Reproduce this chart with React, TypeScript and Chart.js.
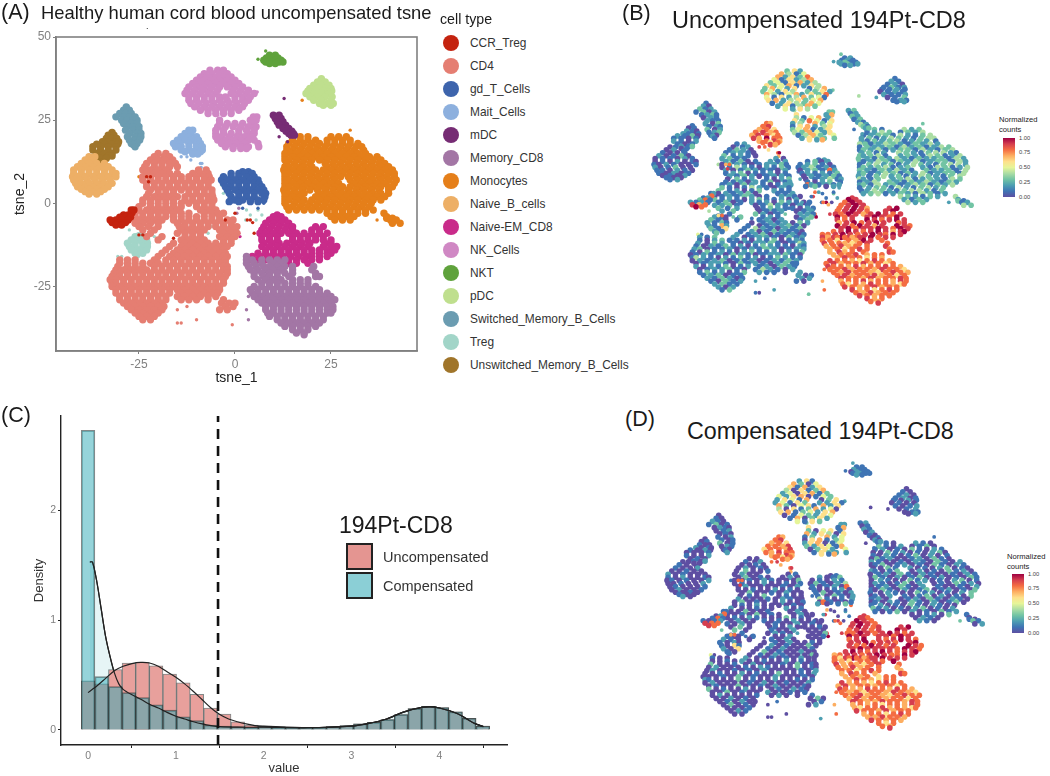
import React, { useEffect, useRef } from "react";
import { Chart, registerables } from "chart.js";
Chart.register(...registerables);

// Every row is [y, x, x, x ...].
const ccrRows = [[-2,-27,-26.3],[-2.8,-26.8],[-3.5,-29,-27.8],[-4.2,-30,-28.5,-27.2],[-5,-32.5,-31,-29.5,-27.8],[-5.8,-32,-30.2,-28.5],[-6.5,-31,-29.5]];
const ccrStrays = [[8,-22,-23],[6.5,-22.5],[-9.5,-25,-24],[-5,4,3.2],[-5.8,4.6],[-9,5],[-3,0],[-5,-2.5],[-10.5,-16]];
const cd4Rows = [
  [15,-20,-18],[14,-21,-18.5,-17],[13,-22,-20,-18.3,-16.2],[12,-23,-21,-19,-17,-15.5],[11,-23.5,-21,-19,-17,-15],
  [10,-24,-22,-20,-18,-9.5,-7.5],[9,-23,-21,-19,-17,-15,-11,-9,-7],[8,-24,-22,-20,-18,-16,-14,-12,-10,-8,-6.7],
  [7,-24,-22,-20,-18,-16,-14,-12,-10,-8,-6.2],[6,-23,-21,-19,-17,-15,-13,-11,-9,-7],[5,-23,-21,-19,-17,-15,-13,-11,-9,-7],
  [4,-22,-20,-18,-16,-14,-12,-10,-8,-6],[3,-22.5,-20,-18,-16,-12,-10,-8,-6],[2,-23,-21,-19,-17,-15,-13,-11,-9,-7,-5.8],
  [1,-24,-22,-20,-18,-16,-13,-11,-9,-7,-5.5],[0,-24,-22,-20,-18,-16,-14,-12,-10,-8,-6],[-1,-25,-22,-20,-18,-16,-14,-10,-8,-6],
  [-2,-25,-23,-21,-19,-17,-15,-9,-7,-5],[-3,-26,-24,-22,-20,-18,-16,-14,-12,-8,-6,-4.5,-3],
  [-4,-26,-24,-22,-20,-18,-16,-14,-12,-10,-8,-6,-4],[-5,-25,-23,-21,-19,-16,-14,-12,-10,-8,-6,-4,-2,-0.5],
  [-6,-26,-24,-22,-20,-15,-13,-11,-9,-7,-5,-3,-1],[-7,-25,-22.5,-20,-14.5,-13,-11,-9,-7,-5,-3,-1,0.5],
  [-8,-24,-21,-14,-12,-10,-8,-4,-2,0],[-9,-22,-15,-13,-11,-9,-3,-1,0.5],[-10,-23,-19,-13,-11,-9,-4,-2,0],
  [-11,-20,-14,-12,-10,-8,-3,-1],[-12,-16,-13,-11,-9,-7,-5,-3,-1],[-13,-17,-14,-12,-10,-8,-6,-4,-2],[-14,-18,-15,-13,-11,-9,-7,-5,-3],
  [-15,-19,-16,-14,-12,-10,-8,-6,-4,-2.5],[-16,-20,-17,-15,-13,-11,-9,-7,-5,-3,-2],[-17,-30,-28,-26,-21,-18,-16,-14,-12,-10,-8,-6,-4,-2.5],
  [-18,-30,-28,-26,-24,-22,-20,-18,-16,-14,-12,-10,-8,-6,-4,-2.5],[-19,-30.5,-28,-26,-24,-21,-19,-17,-15,-13,-11,-9,-7,-5,-3,-2],
  [-20,-31,-29,-27,-25,-23,-21,-19,-17,-15,-13,-11,-9,-7,-5,-3,-2],[-21,-31.5,-30,-28,-26,-24,-22,-20,-18,-16,-14,-12,-10,-8,-6,-4,-2],
  [-22,-32,-30,-28,-26,-24,-22,-20,-18,-16,-14,-12,-10,-8,-6,-4,-2.5],[-23,-32.5,-31,-29,-27,-25,-23,-21,-19,-17,-15,-13,-11,-9,-7,-5,-3],
  [-24,-32,-31,-29,-27,-25,-23,-21,-19,-17,-15,-13,-11,-9,-7,-5,-3],[-25,-32,-30,-28,-26,-24,-22,-20,-18,-16,-14,-12,-10,-8,-6,-4],
  [-26,-31,-29,-27,-25,-23,-21,-19,-17,-15,-13,-11,-9,-7,-5,-4],[-27,-31,-29,-27,-25,-23,-21,-19,-17,-14,-12,-10,-8,-6,-4.5],
  [-28,-30,-28,-26,-24,-22,-20,-18,-15,-13,-11,-9,-7,-5],[-29,-30,-28,-26,-24,-22,-20,-18,-14,-12,-10,-7,-3],
  [-30,-29,-27,-25,-23,-21,-19,-3.5,-1.5,0],[-31,-28,-26,-24,-22,-20,-18.5,-2.5,-0.5],[-32,-27,-25,-23,-21,-19,-4,-2],
  [-33,-26,-24,-22,-20],[-34,-25,-23,-21],[-35,-24,-22]
];
const cd4Strays = [[-36,-15,-14],[-36.5,-0.7],[-35,-10],[-31,-12.5],[-32,-15]];
const gdRows = [[9.5,2,3.5],[9,-1,1,2.7,4.5],[8,-3,-1,1,3,5],[7,-3.5,-2,0,2,4,6],[6,-3,-1,1,3,5,6.3],[5,-2.5,-1,1,3,5,7],[4,-2,0,2,4,6,7.5],[3,-1.5,1,3,5,7,8],[2,-1,1,3,5,7.8],[1,-1,0,2,4,6,7.5],[0.5,-1.5,1,4,6]];
const gdStrays = [[-1.5,2,6],[0,7.5]];
const maitRows = [[22,-12,-11],[21,-13,-11.5],[20,-14,-12,-10],[19,-15,-13,-11,-9.5],[18,-16,-14.3,-12,-10,-9],[17,-15.5,-14,-12,-10,-8.5],[16,-14,-12,-10,-8.5],[15.5,-13,-11,-9],[14.8,-11,-9.7]];
const maitStrays = [[12,-9,-8.6],[10.8,-8.8],[14,-14,-12.5],[13,-11.5]];
const mdcRows = [[26.5,10,11.5],[25.5,10.5,12],[24.5,11,12.5],[23.5,11.5,13.2],[22.5,12.5,14],[21.7,13.3,14.8],[21,14,15.2],[20.5,14.6,15.5]];
const mdcStrays = [[31.5,12.8],[20,11.5],[18.5,13.7]];
const memoryRows = [
  [-16,3],[-17,3,4.5,7,9,11,13],[-18,3,5,7,10,12],[-19,3.5,5.5,7.5,9,11,13,15,20.5],[-20,4,6,8,10,12,15,20],[-21,5,7,9,11,13,15,21],[-22,5,7.5,9,11,14,21,22],
  [-23,6,8,10,12,15,17,19],[-24,7,9,11,13,15,17,19],[-25,5,7,9,11,13,15,17,19,21],[-26,4,6,8,10,12,14,16,18,20,22],[-27,4.5,6,8,10,12,14,16,18,20,22,24],
  [-28,5,7,9,11,13,15,17,19,21,23,25],[-29,6,8,10,12,14,16,18,20,22,24,26],[-30,7,9,11,13,15,17,19,21,23,25],[-31,8,10,12,14,16,18,20,22,24,25.5],
  [-32,8,10,12,14,16,18,20,22,24,25.5],[-33,8.5,10,12,14,16,18,20,22,24,25],[-34,9,11,13,15,17,19,21,23],[-35,11,13,15,17,19,21,23],
  [-36,12,14,16,18,20,22],[-37,13,15,17,19,21],[-38,15,17,19],[-39,16,18],[-39.5,18]
];
const memoryStrays = [[-28,3.5],[-32,3],[-35,3.5],[-3,0.5],[-1.5,1]];
const monoRows = [
  [20,15,17,19,25,27,29],[19,15,17,19,21,24,26,28,30],[18,14,16,18,20,22,24,26,28,30,32],[17,13.5,15.5,17.5,19.5,21.5,23.5,25.5,27.5,29.5,31.5,33],
  [16,13.5,15,17,19,21,23,25,27,29,31,33.5],[15,13,14.5,16,18,20,22,24,26,28,30,32,34],
  [14,13,15,17,19,21,23,25,27,29,31,33,35,37],[13,13,14,16,18,20,22,24,26,28,30,32,34,36,38],
  [12,13.5,15.5,17.5,19.5,23.5,25.5,27.5,29.5,31.5,33.5,35.5,37.5,39],[11,13,14,16,18,20,24,26,28,30,32,34,36,38,40],
  [10,12.7,15,17,19,21,23,25,27,29,31,33,35,37,39,41],[9,13,14,16,18,20,22,24,26,28,30,32,34,36,38,40,41.5],
  [8,13,15.5,17.5,19.5,21.5,23.5,25.5,27.5,29.5,31.5,33.5,35.5,37.5,39.5,41.5],[7,13,14,16,18,20,22,24,26,30,32,34,36,38,40,42],
  [6,13,15,17,19,21,23,25,27,31,33,35,37,39,41.5],[5,13,14,16,18,20,22,24,26,28,30,32,34,36,38,40,41],
  [4,12.7,15.5,17.5,19.5,21.5,23.5,25.5,27.5,29.5,31.5,33.5,35.5,37.5,40],[3,13,14,16,18,22,24,26,28,30,32,34,36,38,40],
  [2,13,15,17,21,23,25,27,29,31,33,35,37,39],[1,13,14,16,18,20,22,24,26,28,30,32,34,36,38],
  [0,13,15.5,17.5,19.5,21.5,23.5,25.5,27.5,29.5,31.5,33.5,35.5],[-1,13.5,15,17,19,21,23,25,27,29,31,33,35],
  [-2,14,16,18,20,22,24,26,28,30,32,34,36],[-3,24,26,28,30,32,34,38.8],[-4,25,27,29,31,39.5],[-4.5,39.5,41],[-5,26,28,30,40.5,42],[-6,41,43]
];
const monoStrays = [[31,17.5],[22,30],[19,-11],[10,-20],[8,-25],[-5,37],[-36.5,20.5]];
const naiveBRows = [[14,-38,-36.5],[13,-39,-37],[12,-40,-38,-36,-34],[11,-41,-39,-37,-35,-33],[10,-42,-40,-38,-36,-34,-32],[9,-42,-40,-38,-36,-34,-32,-31],[8,-42.3,-41,-39,-37,-35,-33,-31],[7,-42,-40.5,-38.5,-36.5,-34.5,-32.5],[6,-41.5,-40,-38,-36,-34,-32],[5,-41,-39,-37,-35,-33],[4.2,-40,-38,-36,-34],[3.5,-39,-37,-35],[2.8,-38,-36]];
const naiveEmRows = [
  [-3.5,11],[-4,10,12],[-5,9,11,13],[-6,8,10,12,14],[-7,7.5,9.5,11.5,13.5,15,21,23],[-8,7,9,11,13,15,20,22],[-9,6.5,8,10,12,14,16,18,20,22,24],[-10,7,9,11,15,17,19,21,23],
  [-11,7,9,11,15,17,19,21,23,25],[-12,7.5,9.5,11.5,13.5,15.5,17.5,19.5,23.5,25],[-13,7,9,11,13,15,17,19,23,25,26.5],[-14,8,10,12,14,16,18,20,22,24,26],
  [-15,6,8,10,12,14,16,18,20,22,24,25],[-16,4.5,6.5,8.5,10.5,12.5,14.5,16.5,18.5,20,22,24],[-17,4,6,8,10,12,14,16,18,20,22],[-18,14,16,19]
];
const naiveEmStrays = [[-9,0.5,1],[-10,1.3]];
const nkRows = [
  [40,-6.5,-4.5,-3],[39,-8,-6,-4,-2],[38,-9,-7,-5,-3,-1],[37,-10,-8,-6,-4,-2,0],[36,-11,-9,-7,-5,-3,-1,1],[35,-12,-10,-8,-6,-4,-2,0,2],
  [34,-12.5,-10.5,-8.5,-6.5,-4.5,-0.5,1.5,3.5],[33,-13,-11,-9,-7,-5,-1,1,3,5],[32,-12,-10,-8,-6,-4,-2.5,0,2,4],[31,-12,-10,-8,-6,-4,-2,0,2,3.5],
  [30,-11.5,-9.5,-7.5,-5.5,-3.5,-1.5,0.5,2.5],[29,-10.5,-8,-6,-4,-2,0,2],[28,-9,-7,-5,-3,-1,1],[27,-7,-5,-3,-1],
  [26,4.8,5.7],[25,-4,4,5.5],[24,-4,-2,0,2,4.5],[23,-4.5,-2.5,-0.5,1.5,3.5,5.5],[22,-5,-3,1,3,5],[21,-5,-3,-1,1,3.5,5],[20,-5,-3.5,-1.5,0.5,2.5,4.5],
  [19,-4.5,-2.5,-0.5,1.5,3.5,5],[18,-3.5,-1.5,0.5,2.5,6],[17,-2.5,-0.5,1.5,3.5,6.2],[16.5,-0.5,1.5,3]
];
const nkStrays = [[33.5,5.8],[26.5,-4.5]];
const nktRows = [[44.5,9,10.5],[43.7,8.2,9.8,11.2],[43,7.5,9,10.5,12],[42.5,8,9.7,11.5,12.5],[42,9,10.5]];
const nktStrays = [[45.8,8],[43.3,6]];
const pdcRows = [[37.5,22.5],[36.5,21.5,23.5],[35.5,20.5,22.5,24.5],[34.5,19.5,21.5,23.5,25],[33.8,19,21,23,25.2],[33,18.5,20.5,22.5,24.5],[32,19.5,21.5,23.5,25.3],[31,20.5,22.5,25],[30,22,24,25.6],[29.5,23,25]];
const switchedRows = [[29,-28.3],[28,-29,-27.5],[27,-30,-28.5,-27],[26,-31,-29,-27.5,-26],[25,-29.5,-28,-26.5,-25.5],[24,-29,-27,-25.5],[23,-28,-26.5,-25],[22,-28.5,-26.5,-25],[21,-27.5,-25.5,-24.5],[20,-28,-26,-24.5],[19,-27.5,-26,-24.8],[18,-27,-25.5],[17.7,-26.5],[17,-26]];
const tregRows = [[-9.7,-25],[-10,-26,-24],[-11,-27,-25,-23],[-12,-28,-26,-24,-22.8],[-13,-27.5,-26,-24,-22.8],[-14,-27,-25,-23],[-15,-26,-24],[-15.5,-25.5]];
const tregStrays = [
  [-16,-29.5,-30.5],[-8,-27.5],[-10,-21,-19.5],[-11,-14,-8],[-7,-6],[-9,-7],[-5,-12],[-17,-28],[5.5,-3.5],[3,-3],
  [-2,3,6],[-3.5,4,7],[-5,5.5,2.8],[2,13],[0,13],[-16,-3.5]
];
const unswitchedRows = [[21.3,-32],[20.5,-33,-31.5],[19.5,-33.5,-32,-30.8],[18.5,-34.5,-33,-31,-30.3],[17.8,-36,-34,-32,-30.5],[17,-37,-35,-33,-31],[16,-37,-35,-33,-31],[15,-36,-34,-32],[14.2,-35,-33,-32],[13.5,-35,-33.5],[12.5,-34.3]];
const unswitchedStrays = [[11.5,-34],[10,-33.5]];

// Expression levels in tenths (0 = 0.00, 10 = 1.00) read cluster by cluster from panels B and D.
const ccrB = [1,2,8,1,2,3,8,1,2,1,2,1,9,7,8,10,8,6,9,7,8];
const ccrD = [1,1,8,0,2,1,8,1,1,0,1,2,9,8,8,9,8,7,9,8,8];
const cd4B = [1,2,0,1,2,1,3,2,0,1,2,2,1,0,3,1,2,1,0,2,3,1,1,2,0,2,1,3,0,1,2,1,2,0,3,2,1,0,1,2,2,3,1,0,1,4,2,1,0,2,1,3,1,2,0,1,3,2,1,1,0,2,1,2,3,0,1];
const cd4D = [0,0,1,0,2,0,0,1,0,0,2,0,1,0,0,3,0,0,1,0,2,0,0,0,1,0,3,0,1,0,0,2,0,0,0,1,0,2,1,0,0,0,3,0,1,0,0,2,0,0,1,0,1,0,2,0,0];
const gdB = [1,2,1,3,0,2,1,2,3,1,0,1,2,4,1,2,1,0,2,3,1,8,2,1,2];
const gdD = [0,1,2,0,1,3,0,1,0,2,1,0,3,1,0,2,4,1,0,1,2,0,8,1,0];
const maitB = [8,7,8,9,7,8,6,8,9,7,8,7,9,8,6,8,9,7,10,8];
const maitD = [8,7,8,9,7,8,6,8,8,7,9,6,8,8,7,9,8,7,9,8];
const mdcB = [2,3,1,2,3,2,1,3,2,1,4];
const mdcD = [1,2,0,1,2,1,0,2,1,0,0];
const memoryB = [8,9,7,8,8,7,9,8,8,6,8,7,9,8,8,7,6,8,9,8,7,8,9,7,8,8,9,7,8,6,8,9,8,8,7,9,7,8,8,9,8,7,8];
const memoryD = [7,8,6,8,8,7,9,8,7,6,8,8,9,7,8,7,6,8,9,8,8,7,9,7,8,8,7,8,8,6,8,9,8,7,7,9,8,8,7,9,8,7,8];
const monoB = [2,3,1,4,2,3,1,2,4,3,1,3,2,4,1,2,3,3,1,4,2,1,3,4,2,3,1,2,4,3,2,1,3,4,4,2,1,3,2,3,4,1,2,3,2,1,4,3,1,2,4,3,2,1,3,2,4,2,1,3,2];
const monoD = [0,1,0,2,1,0,3,1,0,2,0,1,3,0,1,2,0,1,0,3,1,0,2,1,0,0,3,1,2,0,1,0,2,3,0,1,0,2,1,0,1,3,0,2,0,1,0,3,1,2,0,0,1,2,0,3,1,0,2,1,0];
const naiveBB = [0,1,0,2,1,0,0,1,2,0,1,3,0,0,1,1,0,2,1,0,1,0,2,0,1];
const naiveBD = [0,0,1,0,1,0,0,2,0,0,1,0,0,2,0,1,0,0,0,1,0,2,0,0,1];
const naiveEmB = [9,10,9,8,10,9,8,9,10,9,8,9,10,9,7,9,10,8,9,10,9,8,9,10,9,8,10,9,7,9,10,9,8,9,10,8,9];
const naiveEmD = [9,9,8,10,9,8,9,10,9,8,9,10,9,8,9,9,10,8,9,9,8,9,10,9,8,8,10,9,8,9,10,9,8,9,10,9,9];
const nkB = [3,6,2,7,4,1,5,7,2,6,3,8,5,1,6,2,4,7,3,5,1,6,7,2,4,6,3,5,7,1,2,6,4,3,7,5,2,6,1,4,7,3,5,2,6,4,3];
const nkD = [2,6,1,7,3,0,5,6,1,7,2,6,4,0,6,1,3,7,2,5,0,6,7,1,3,5,2,6,7,0,1,5,3,2,6,5,1,7,0,3,6,2,5,1,6,3,2];
const nktB = [1,2,1,2,1,2,3,1,1,2,3];
const nktD = [1,1,2,1,1,0,2,1,1,1,2];
const pdcB = [1,2,1,1,2,0,1,3,1,2,1,1,2,1,0,1,2];
const pdcD = [0,1,0,1,2,0,1,2,0,1,1,0,2,1,0,1,0];
const switchedB = [1,2,0,3,1,2,1,3,0,2,1,2,3,1,0,2,1,2,1];
const switchedD = [0,1,0,2,1,0,1,3,0,1,0,2,1,0,0,1,2,0,1];
const tregB = [1,2,1,3,1,0,2,1,3,1,2,1,7,2,3,1,6,2,1,3,4,5,1];
const tregD = [0,1,0,2,1,0,1,0,2,0,1,0,6,1,2,0,6,1,0,1,3,5,0];
const unswitchedB = [1,0,1,2,1,0,2,1,0,1,2,1,3,0,1];
const unswitchedD = [0,0,1,1,0,0,2,0,1,0,1,0,2,0,0];

const spectral = ["#5E4FA2","#3F74B4","#4E9FB2","#72C4A4","#ABDDA4","#E6F598","#FEE08B","#FDAE61","#F46D43","#D53E4F","#9E0142"];

const clusters = [
  { name: "CCR_Treg", color: "#C4230F", rows: ccrRows, strays: ccrStrays, b: ccrB, d: ccrD },
  { name: "CD4", color: "#E57E72", rows: cd4Rows, strays: cd4Strays, b: cd4B, d: cd4D },
  { name: "gd_T_Cells", color: "#3D64AC", rows: gdRows, strays: gdStrays, b: gdB, d: gdD },
  { name: "Mait_Cells", color: "#8DB0DE", rows: maitRows, strays: maitStrays, b: maitB, d: maitD },
  { name: "mDC", color: "#762C74", rows: mdcRows, strays: mdcStrays, b: mdcB, d: mdcD },
  { name: "Memory_CD8", color: "#A376A5", rows: memoryRows, strays: memoryStrays, b: memoryB, d: memoryD },
  { name: "Monocytes", color: "#E57F1A", rows: monoRows, strays: monoStrays, b: monoB, d: monoD },
  { name: "Naive_B_cells", color: "#EDAF66", rows: naiveBRows, strays: [], b: naiveBB, d: naiveBD },
  { name: "Naive-EM_CD8", color: "#C92B8A", rows: naiveEmRows, strays: naiveEmStrays, b: naiveEmB, d: naiveEmD },
  { name: "NK_Cells", color: "#D088C4", rows: nkRows, strays: nkStrays, b: nkB, d: nkD },
  { name: "NKT", color: "#5FA23C", rows: nktRows, strays: nktStrays, b: nktB, d: nktD },
  { name: "pDC", color: "#BFDF8E", rows: pdcRows, strays: [], b: pdcB, d: pdcD },
  { name: "Switched_Memory_B_Cells", color: "#6B9CB1", rows: switchedRows, strays: [], b: switchedB, d: switchedD },
  { name: "Treg", color: "#A2D5C8", rows: tregRows, strays: tregStrays, b: tregB, d: tregD },
  { name: "Unswitched_Memory_B_Cells", color: "#A0752A", rows: unswitchedRows, strays: unswitchedStrays, b: unswitchedB, d: unswitchedD },
];

const expand = (rows: number[][]) => rows.flatMap(([y, ...xs]) => xs.map((x) => ({ x, y })));

// Panel C: histogram bins and density curves
const binWidth = 0.155;
const uncompensatedBins = [0.447,0.42,0.55,0.61,0.617,0.585,0.51,0.43,0.325,0.2,0.145,0.075,0.045,0.035,0.03,0.025,0.025,0.025,0.03,0.04,0.055,0.07,0.095,0.14,0.195,0.215,0.205,0.165,0.105,0.035];
const compensatedBins = [2.73,0.486,0.395,0.34,0.295,0.23,0.18,0.12,0.085,0.045,0.035,0.03,0.025,0.03,0.025,0.025,0.025,0.025,0.03,0.04,0.055,0.07,0.095,0.14,0.195,0.215,0.205,0.165,0.105,0.035];
const compensatedKdeX = [0.02,0.05,0.1,0.15,0.2,0.25,0.3,0.35,0.4,0.5,0.6,0.7,0.8,0.9,1,1.1,1.2,1.3,1.4,1.5,1.7,2,2.5,3,3.2,3.4,3.6,3.8,3.9,4,4.2,4.4,4.5];
const compensatedKdeY = [1.53,1.53,1.35,1.1,0.85,0.67,0.52,0.42,0.37,0.32,0.28,0.235,0.2,0.16,0.125,0.1,0.075,0.055,0.04,0.03,0.025,0.025,0.02,0.035,0.06,0.1,0.165,0.205,0.21,0.2,0.15,0.06,0.03];
const uncompensatedKdeX = [0,0.05,0.1,0.2,0.3,0.4,0.5,0.6,0.7,0.8,0.9,1,1.1,1.2,1.3,1.4,1.5,1.6,1.7,1.8,1.9,2,2.5,3,3.2,3.4,3.6,3.8,3.9,4,4.2,4.4,4.5];
const uncompensatedKdeY = [0.34,0.37,0.4,0.47,0.54,0.58,0.605,0.615,0.61,0.58,0.53,0.48,0.42,0.35,0.275,0.2,0.14,0.1,0.075,0.055,0.04,0.035,0.02,0.035,0.06,0.1,0.165,0.205,0.21,0.2,0.15,0.06,0.03];
const cutoffValue = 1.48;
const legendLabelsC = ["Uncompensated", "Compensated"];
const colorbarTicks = ["1.00", "0.75", "0.50", "0.25", "0.00"];

const FONT = "'Liberation Sans', Arial, sans-serif";
const GREY = "#808080";

const framePlugin = {
  id: "frame",
  afterDatasetsDraw(chart: any, _a: any, o: any) {
    if (!o || !o.color) return;
    const { ctx, chartArea: c } = chart;
    ctx.save();
    ctx.strokeStyle = o.color;
    ctx.lineWidth = o.width;
    ctx.strokeRect(c.left, c.top, c.right - c.left, c.bottom - c.top);
    ctx.restore();
  },
};

function ticksAt(values: number[]) {
  return (s: any) => { s.ticks = values.map((value) => ({ value })); };
}

function useChart(make: (c: HTMLCanvasElement) => Chart) {
  const ref = useRef<HTMLCanvasElement>(null);
  useEffect(() => {
    const chart = make(ref.current!);
    return () => chart.destroy();
  }, []);
  return ref;
}

function makeA(el: HTMLCanvasElement) {
  const datasets: any[] = [];
  clusters.forEach((c) => {
    datasets.push({ label: c.name, data: expand(c.rows), backgroundColor: c.color, pointRadius: 3.7, pointBorderWidth: 0 });
    datasets.push({ label: c.name + " scattered", data: expand(c.strays), backgroundColor: c.color, pointRadius: 1.7, pointBorderWidth: 0 });
  });
  return new Chart(el, {
    type: "scatter",
    data: { datasets },
    plugins: [framePlugin],
    options: {
      animation: false, responsive: false, events: [],
      layout: { padding: { top: 37, right: 18, left: 0, bottom: 0 } },
      plugins: { legend: { display: false }, tooltip: { enabled: false }, frame: { color: "#808080", width: 1.6 } } as any,
      scales: {
        x: {
          type: "linear", min: -46.6, max: 47.4, afterBuildTicks: ticksAt([-25, 0, 25]),
          afterFit: (s: any) => { s.height = 44; },
          grid: { display: true, drawOnChartArea: false, tickLength: 3, tickColor: GREY },
          border: { color: GREY, width: 1.6 },
          ticks: { color: GREY, font: { family: FONT, size: 12 }, padding: 3, maxRotation: 0, callback: (v: any) => String(v) },
          title: { display: true, text: "tsne_1", color: "#222", font: { family: FONT, size: 14 }, padding: { top: 0, bottom: 8 } },
        },
        y: {
          type: "linear", min: -44.4, max: 50, afterBuildTicks: ticksAt([-25, 0, 25, 50]),
          afterFit: (s: any) => { s.width = 56; },
          grid: { display: true, drawOnChartArea: false, tickLength: 3, tickColor: GREY },
          border: { color: GREY, width: 1.6 },
          ticks: { color: GREY, font: { family: FONT, size: 12 }, padding: 2, callback: (v: any) => String(v) },
          title: { display: true, text: "tsne_2", color: "#222", font: { family: FONT, size: 14 }, padding: { top: 12, bottom: 0 } },
        },
      },
    } as any,
  });
}

function makeExpression(el: HTMLCanvasElement, key: "b" | "d") {
  const datasets: any[] = [];
  clusters.forEach((c) => {
    const levels = c[key];
    const pts = expand(c.rows);
    const strays = expand(c.strays);
    datasets.push({ label: c.name, data: pts, pointBackgroundColor: pts.map((_, i) => spectral[levels[i % levels.length]]), pointRadius: 2.8, pointBorderWidth: 0, clip: false });
    datasets.push({ label: c.name + " scattered", data: strays, pointBackgroundColor: strays.map((_, i) => spectral[levels[(levels.length - 1 - i % levels.length)]]), pointRadius: 1.9, pointBorderWidth: 0, clip: false });
  });
  return new Chart(el, {
    type: "scatter",
    data: { datasets },
    options: {
      animation: false, responsive: false, events: [],
      layout: { padding: 0 },
      plugins: { legend: { display: false }, tooltip: { enabled: false } },
      scales: { x: { type: "linear", display: false, min: -45, max: 47 }, y: { type: "linear", display: false, min: -45, max: 50 } },
    } as any,
  });
}

function makeC(el: HTMLCanvasElement) {
  const toXY = (xs: number[], ys: number[]) => xs.map((x, i) => ({ x, y: ys[i] }));
  const toBins = (ys: number[]) => ys.map((y, i) => ({ x: i * binWidth, y }));
  const edge = "rgba(30,40,40,0.55)";
  return new Chart(el, {
    data: {
      datasets: [
        { type: "line", label: "Compensated density", data: toXY(compensatedKdeX, compensatedKdeY), borderColor: "#222", borderWidth: 1.2, pointRadius: 0, tension: 0.3, fill: "origin", backgroundColor: "rgba(51,171,184,0.12)", order: 10 },
        { type: "bar", label: legendLabelsC[0], data: toBins(uncompensatedBins), backgroundColor: "#E8A09C", borderColor: edge, borderWidth: 1.1, barPercentage: 1, categoryPercentage: 1, grouped: false, order: 8 },
        { type: "bar", label: legendLabelsC[1], data: toBins(compensatedBins), backgroundColor: "rgba(45,170,182,0.5)", borderColor: edge, borderWidth: 1.1, barPercentage: 1, categoryPercentage: 1, grouped: false, order: 6 },
        { type: "line", label: "Compensated curve", data: toXY(compensatedKdeX, compensatedKdeY), borderColor: "#222", borderWidth: 1.2, pointRadius: 0, tension: 0.3, fill: false, order: 4 },
        { type: "line", label: "Uncompensated curve", data: toXY(uncompensatedKdeX, uncompensatedKdeY), borderColor: "#222", borderWidth: 1.2, pointRadius: 0, tension: 0.3, fill: false, order: 3 },
        { type: "line", label: "Cutoff", data: [{ x: cutoffValue, y: -0.137 }, { x: cutoffValue, y: 2.86 }], borderColor: "#111", borderWidth: 2.6, borderDash: [10, 7], pointRadius: 0, fill: false, order: 1 },
      ],
    },
    options: {
      animation: false, responsive: false, events: [],
      layout: { padding: { top: 16, right: 13, left: 0, bottom: 0 } },
      plugins: { legend: { display: false }, tooltip: { enabled: false } },
      scales: {
        x: {
          type: "linear", offset: false, min: -0.308, max: 4.77, afterBuildTicks: ticksAt([0, 1, 2, 3, 4]),
          afterFit: (s: any) => { s.height = 31; },
          grid: { display: true, drawOnChartArea: false, tickLength: 3, tickColor: "#222" },
          border: { color: "#222", width: 1.4 },
          ticks: { color: GREY, font: { family: FONT, size: 10.5 }, padding: 2, maxRotation: 0, callback: (v: any) => String(v) },
          title: { display: true, text: "value", color: "#333", font: { family: FONT, size: 13 }, padding: { top: 0, bottom: 0 } },
        },
        y: {
          type: "linear", min: -0.137, max: 2.86, afterBuildTicks: ticksAt([0, 1, 2]),
          afterFit: (s: any) => { s.width = 61; },
          grid: { display: true, drawOnChartArea: false, tickLength: 3, tickColor: "#222" },
          border: { color: "#222", width: 1.4 },
          ticks: { color: GREY, font: { family: FONT, size: 10.5 }, padding: 2, callback: (v: any) => String(v) },
          title: { display: true, text: "Density", color: "#333", font: { family: FONT, size: 13 }, padding: { top: 32, bottom: 0 } },
        },
      },
    } as any,
  });
}

function T({ x, y, size, color = "#1a1a1a", children }: any) {
  return (
    <div style={{ position: "absolute", left: x, top: y, fontSize: size, color, fontFamily: FONT, lineHeight: 1, whiteSpace: "nowrap", transform: "translateY(-50%)" }}>
      {children}
    </div>
  );
}

function Canvas({ cref, x, y, w, h }: any) {
  return <canvas ref={cref} width={w} height={h} style={{ position: "absolute", left: x, top: y, width: w, height: h, display: "block" }} />;
}

function Colorbar({ x, top, bottom, titleX, titleY }: any) {
  const step = (bottom - top) / 4;
  return (
    <>
      <T x={titleX} y={titleY} size={7.6} color="#222">Normalized</T>
      <T x={titleX} y={titleY + 9.5} size={7.6} color="#222">counts</T>
      <div style={{ position: "absolute", left: x, top, width: 12, height: bottom - top, background: `linear-gradient(to top, ${spectral.join(",")})` }} />
      {colorbarTicks.map((t, i) => <T key={t} x={x + 16} y={top + i * step + 0.5} size={5.8} color="#444">{t}</T>)}
    </>
  );
}

export default function App() {
  const a = useChart(makeA);
  const b = useChart((c) => makeExpression(c, "b"));
  const cc = useChart(makeC);
  const d = useChart((c) => makeExpression(c, "d"));
  return (
    <div style={{ position: "absolute", left: 0, top: 0, width: 1050, height: 776, overflow: "hidden", background: "#fff" }}>
      <Canvas cref={a} x={0} y={0} w={435} h={395} />
      <Canvas cref={b} x={640} y={38} w={350} h={285} />
      <Canvas cref={cc} x={0} y={400} w={520} h={376} />
      <Canvas cref={d} x={653} y={446} w={348} h={303} />

      <T x={1} y={13} size={21.5}>(A)</T>
      <T x={41} y={13} size={18.4}>Healthy human cord blood uncompensated tsne</T>
      <T x={146} y={26} size={9}>.</T>
      <T x={622} y={14} size={21.5}>(B)</T>
      <T x={672} y={21} size={23.5}>Uncompensated 194Pt-CD8</T>
      <T x={1} y={416} size={21.5}>(C)</T>
      <T x={625} y={420} size={21.5}>(D)</T>
      <T x={687} y={432} size={23.3}>Compensated 194Pt-CD8</T>

      <T x={440} y={19} size={14.2}>cell type</T>
      {clusters.map((c, i) => (
        <React.Fragment key={c.name}>
          <div style={{ position: "absolute", left: 443, top: 35.3 + i * 23, width: 16, height: 16, borderRadius: 8, background: c.color }} />
          <T x={470} y={43.5 + i * 23} size={11.9} color="#333">{c.name}</T>
        </React.Fragment>
      ))}

      <Colorbar x={1003} top={138} bottom={197} titleX={999} titleY={120} />
      <Colorbar x={1012} top={574} bottom={633} titleX={1007} titleY={557} />

      <T x={339} y={525} size={23}>194Pt-CD8</T>
      <div style={{ position: "absolute", left: 346, top: 543, width: 27, height: 27, boxSizing: "border-box", background: "#E49591", border: "2px solid #222" }} />
      <div style={{ position: "absolute", left: 346, top: 572, width: 27, height: 27, boxSizing: "border-box", background: "#8BCFD6", border: "2px solid #222" }} />
      <T x={383} y={557} size={14.5} color="#333">{legendLabelsC[0]}</T>
      <T x={383} y={586} size={14.5} color="#333">{legendLabelsC[1]}</T>
    </div>
  );
}
